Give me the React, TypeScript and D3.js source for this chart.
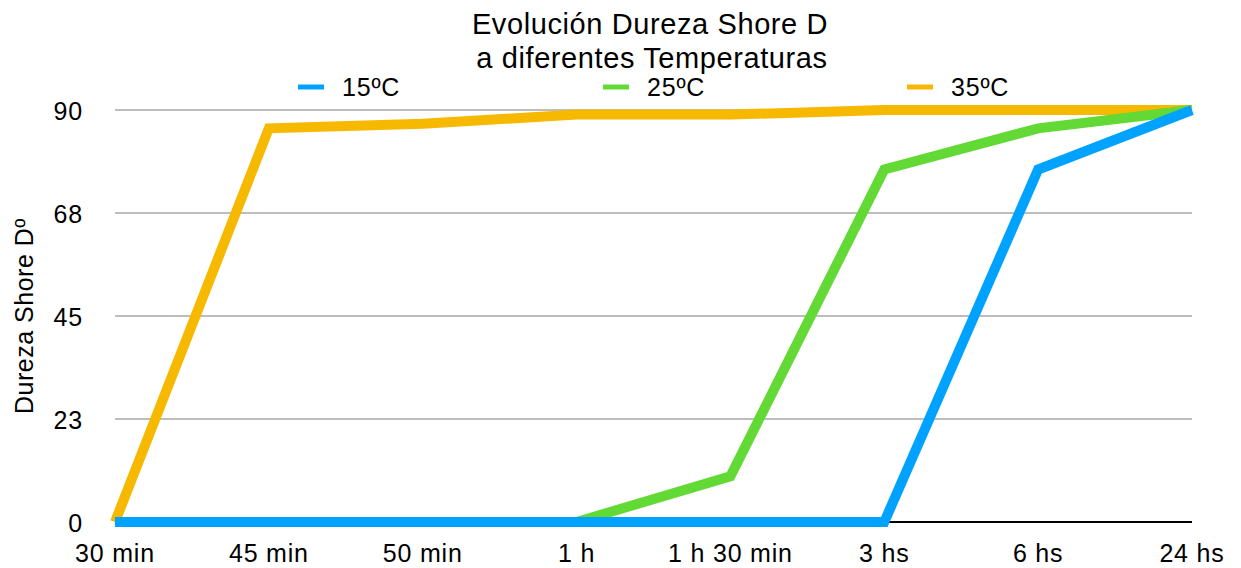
import React from 'react';
import * as d3 from 'd3';

const categories = ['30 min', '45 min', '50 min', '1 h', '1 h 30 min', '3 hs', '6 hs', '24 hs'];
const t15 = [0, 0, 0, 0, 0, 0, 77, 90];
const t25 = [0, 0, 0, 0, 10, 77, 86, 90];
const t35 = [0, 86, 87, 89, 89, 90, 90, 90];
const yTicks = [0, 22.5, 45, 67.5, 90];

const series = [
  { name: '35ºC', values: t35, color: '#F7B800', legendX: 907 },
  { name: '25ºC', values: t25, color: '#63D935', legendX: 603 },
  { name: '15ºC', values: t15, color: '#00A2FF', legendX: 298 },
];

const W = 1241, H = 568;
const margin = { left: 115, right: 49, top: 110, bottom: 46 };
const font = '"Liberation Sans", Arial, Helvetica, sans-serif';
const ls = 0.8;

const App: React.FC = () => {
  const x = d3.scalePoint<string>()
    .domain(categories)
    .range([margin.left, W - margin.right]);
  const y = d3.scaleLinear()
    .domain([0, 90])
    .range([H - margin.bottom, margin.top]);

  const line = d3.line<number>()
    .x((_, i) => x(categories[i]) as number)
    .y(d => y(d));

  return (
    <svg width={W} height={H} style={{ position: 'absolute', left: 0, top: 0, background: '#fff' }}>
      <rect width={W} height={H} fill="#fff" />
      <g fontFamily={font} fill="#000">
        <text x={650} y={34} textAnchor="middle" fontSize={29} letterSpacing={0.6}>
          Evolución Dureza Shore D
        </text>
        <text x={652} y={68} textAnchor="middle" fontSize={29} letterSpacing={0.6}>
          a diferentes Temperaturas
        </text>
      </g>

      {yTicks.map(t => (
        <g key={t}>
          <line
            x1={margin.left} x2={W - margin.right}
            y1={y(t)} y2={y(t)}
            stroke={t === 0 ? '#000' : '#BDBDBD'} strokeWidth={2}
          />
          <text x={83} y={y(t) + 10} textAnchor="end" fontFamily={font} fontSize={25} letterSpacing={ls} fill="#000">
            {Math.round(t)}
          </text>
        </g>
      ))}

      {categories.map(c => (
        <text key={c} x={x(c)} y={562} textAnchor="middle" fontFamily={font} fontSize={25} letterSpacing={ls} fill="#000">
          {c}
        </text>
      ))}

      <text
        transform={`translate(33,${(y(0) + y(90)) / 2}) rotate(-90)`}
        textAnchor="middle" fontFamily={font} fontSize={25} letterSpacing={0.5} fill="#000"
      >
        Dureza Shore Dº
      </text>

      {series.map(s => (
        <path key={s.name} d={line(s.values) || ''} fill="none" stroke={s.color}
          strokeWidth={10} strokeLinejoin="miter" strokeLinecap="butt" />
      ))}

      {series.map(s => (
        <g key={s.name + 'lg'}>
          <line x1={s.legendX} x2={s.legendX + 26} y1={87} y2={87} stroke={s.color} strokeWidth={5} />
          <text x={s.legendX + 44} y={96} fontFamily={font} fontSize={25} letterSpacing={ls} fill="#000">{s.name}</text>
        </g>
      ))}
    </svg>
  );
};

export default App;
